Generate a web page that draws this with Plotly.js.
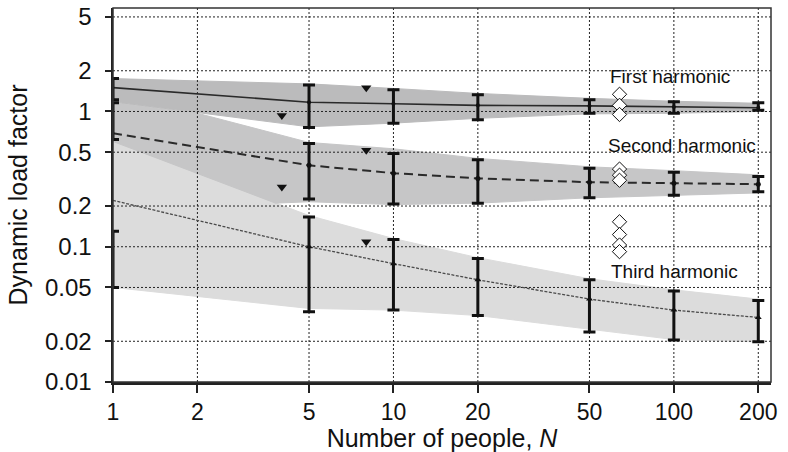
<!DOCTYPE html>
<html>
<head>
<meta charset="utf-8">
<script src="https://cdn.plot.ly/plotly-3.0.1.min.js"></script>
<style>
  html, body { margin: 0; padding: 0; background: #fff; }
  #chart { width: 788px; height: 452px; }
</style>
</head>
<body>
<div id="chart"></div>
<script>
// Axis ticks
const xTicks = [1, 2, 5, 10, 20, 50, 100, 200];
const yTicks = [0.01, 0.02, 0.05, 0.1, 0.2, 0.5, 1, 2, 5];
const yTickText = ['0.01', '0.02', '0.05', '0.1', '0.2', '0.5', '1', '2', '5'];

// Number of people at which mean values and ranges are given
const groupN = [1, 5, 10, 20, 50, 100, 200];

// Mean dynamic load factors
const firstMean = [1.5, 1.17, 1.14, 1.11, 1.10, 1.08, 1.065];
const secondMean = [0.69, 0.40, 0.35, 0.32, 0.30, 0.295, 0.29];
const thirdMean = [0.22, 0.10, 0.075, 0.057, 0.041, 0.034, 0.030];

// Ranges (error bars), low and high ends
const firstLow = [1.22, 0.76, 0.82, 0.87, 0.97, 0.97, 1.02];
const firstHigh = [1.75, 1.57, 1.45, 1.33, 1.22, 1.18, 1.16];
const secondLow = [0.62, 0.225, 0.207, 0.21, 0.23, 0.24, 0.255];
const secondHigh = [1.16, 0.58, 0.49, 0.44, 0.38, 0.355, 0.33];
const thirdLow = [0.05, 0.033, 0.034, 0.031, 0.0234, 0.0204, 0.0198];
const thirdHigh = [0.13, 0.166, 0.113, 0.082, 0.057, 0.047, 0.040];

// Shaded envelopes
const firstBandUpperN = [1, 5, 10, 20, 50, 100, 200];
const firstBandUpper = [1.75, 1.6, 1.48, 1.36, 1.25, 1.19, 1.15];
const firstBandLowerN = [1, 5, 10, 20, 50, 100, 200];
const firstBandLower = [1.18, 0.77, 0.82, 0.89, 0.96, 0.97, 1.0];

const secondBandUpperN = [1, 2, 5, 10, 20, 50, 100, 200];
const secondBandUpper = [1.17, 0.97, 0.59, 0.53, 0.45, 0.39, 0.365, 0.34];
const secondBandLowerN = [1, 3.8, 5, 10, 20, 50, 100, 200];
const secondBandLower = [0.6, 0.21, 0.215, 0.205, 0.21, 0.23, 0.24, 0.25];

const thirdBandUpperN = [1, 3.8, 5, 10, 20, 50, 100, 200];
const thirdBandUpper = [0.6, 0.21, 0.17, 0.115, 0.083, 0.058, 0.048, 0.041];
const thirdBandLowerN = [1, 5, 10, 20, 50, 100, 200];
const thirdBandLower = [0.05, 0.035, 0.034, 0.031, 0.0245, 0.0206, 0.0198];

// Other measurements (filled down-triangles)
const firstTriN = [4, 8];
const firstTri = [0.935, 1.5];
const secondTriN = [4, 8];
const secondTri = [0.276, 0.517];
const thirdTriN = [8];
const thirdTri = [0.109];

// Other measurements (open diamonds)
const diamondN = 64;
const firstDiamonds = [1.34, 1.11, 0.95];
const secondDiamonds = [0.375, 0.338, 0.31];
const thirdDiamonds = [0.153, 0.123, 0.103, 0.092];

const FONT = 'Liberation Sans, Arial, Helvetica, sans-serif';
const INK = '#111111';
const X_RANGE = [0, Math.log10(222)];
const Y_RANGE = [-2, 0.765];

function band(upN, up, loN, lo, color) {
  return {
    x: upN.concat(loN.slice().reverse()),
    y: up.concat(lo.slice().reverse()),
    type: 'scatter', mode: 'lines', fill: 'toself',
    fillcolor: color, line: { width: 1, color: color }, hoverinfo: 'skip', showlegend: false
  };
}

// Dotted grid drawn as a trace so that it stays visible over the shaded envelopes
function gridTrace() {
  const xs = [], ys = [];
  const yLo = Math.pow(10, Y_RANGE[0]), yHi = Math.pow(10, Y_RANGE[1]);
  const xLo = Math.pow(10, X_RANGE[0]), xHi = Math.pow(10, X_RANGE[1]);
  xTicks.slice(1).forEach(v => { xs.push(v, v, null); ys.push(yLo, yHi, null); });
  yTicks.slice(1).forEach(v => { xs.push(xLo, xHi, null); ys.push(v, v, null); });
  return {
    x: xs, y: ys, type: 'scatter', mode: 'lines', connectgaps: false,
    line: { color: '#222', width: 1, dash: '2px,2px' },
    hoverinfo: 'skip', showlegend: false
  };
}

function rangeBars(lo, hi) {
  return {
    x: groupN, y: hi, type: 'scatter', mode: 'markers',
    marker: { size: 1, color: 'rgba(0,0,0,0)' },
    error_y: {
      type: 'data', symmetric: false,
      array: hi.map(() => 0),
      arrayminus: hi.map((h, i) => h - lo[i]),
      color: INK, thickness: 3, width: 6
    },
    showlegend: false, hoverinfo: 'skip'
  };
}

function meanLine(mean, dash, width, color) {
  return {
    x: groupN, y: mean, type: 'scatter', mode: 'lines',
    line: { color: color, width: width, dash: dash },
    showlegend: false
  };
}

function meanMarks(mean, symbol, size) {
  return {
    x: groupN.slice(1), y: mean.slice(1), type: 'scatter', mode: 'markers',
    marker: { symbol: symbol, size: size, color: INK },
    showlegend: false
  };
}

function triangles(n, v) {
  return {
    x: n, y: v, type: 'scatter', mode: 'markers',
    marker: { symbol: 'triangle-down', size: 9, color: INK },
    showlegend: false
  };
}

function diamonds(v) {
  return {
    x: v.map(() => diamondN), y: v, type: 'scatter', mode: 'markers',
    marker: { symbol: 'diamond', size: 11, color: '#ffffff', line: { color: INK, width: 1 } },
    showlegend: false
  };
}

const traces = [
  band(thirdBandUpperN, thirdBandUpper, thirdBandLowerN, thirdBandLower, '#dcdcdc'),
  band(secondBandUpperN, secondBandUpper, secondBandLowerN, secondBandLower, '#c6c6c7'),
  band(firstBandUpperN, firstBandUpper, firstBandLowerN, firstBandLower, '#bbbbbc'),
  gridTrace(),
  meanLine(firstMean, 'solid', 1.6, '#2a2a2a'),
  meanLine(secondMean, '9px,5px', 2, '#2a2a2a'),
  meanLine(thirdMean, '3px,1.5px', 1.3, '#4a4a4a'),
  rangeBars(firstLow, firstHigh),
  rangeBars(secondLow, secondHigh),
  rangeBars(thirdLow, thirdHigh),
  meanMarks(firstMean, 'circle', 4),
  meanMarks(secondMean, 'circle', 5),
  meanMarks(thirdMean, 'triangle-up', 6),
  triangles(firstTriN, firstTri),
  triangles(secondTriN, secondTri),
  triangles(thirdTriN, thirdTri),
  diamonds(firstDiamonds),
  diamonds(secondDiamonds),
  diamonds(thirdDiamonds)
];

const labelFont = { family: FONT, size: 19, color: INK };

const layout = {
  width: 788, height: 452,
  margin: { l: 113, r: 17, t: 8, b: 70 },
  paper_bgcolor: '#ffffff', plot_bgcolor: '#ffffff',
  font: { family: FONT, color: INK },
  showlegend: false,
  xaxis: {
    type: 'log', range: X_RANGE,
    tickvals: xTicks, ticktext: xTicks.map(String),
    tickfont: { family: FONT, size: 23, color: INK },
    ticks: 'outside', ticklen: 8, tickwidth: 2, tickcolor: '#222',
    ticklabelstandoff: 0,
    showline: true, linewidth: 2.5, linecolor: '#222',
    showgrid: false, zeroline: false,
    title: { text: 'Number of people, <i>N</i>', font: { family: FONT, size: 25, color: INK }, standoff: 2 }
  },
  yaxis: {
    type: 'log', range: Y_RANGE,
    tickvals: yTicks, ticktext: yTickText,
    tickfont: { family: FONT, size: 24, color: INK },
    ticks: 'outside', ticklen: 6, tickwidth: 2, tickcolor: '#222',
    ticklabelstandoff: 8,
    showline: true, linewidth: 2.5, linecolor: '#222',
    showgrid: false, zeroline: false,
    title: { text: 'Dynamic load factor', font: { family: FONT, size: 25, color: INK }, standoff: 10 }
  },
  shapes: [{
    type: 'rect', xref: 'paper', yref: 'paper', x0: 0, x1: 1, y0: 0, y1: 1,
    line: { color: '#333', width: 1.5 }, layer: 'above'
  }],
  annotations: [
    { x: Math.log10(58), y: Math.log10(1.8), xref: 'x', yref: 'y', text: 'First harmonic',
      showarrow: false, xanchor: 'left', yanchor: 'middle', font: labelFont },
    { x: Math.log10(57.5), y: Math.log10(0.56), xref: 'x', yref: 'y', text: 'Second harmonic',
      showarrow: false, xanchor: 'left', yanchor: 'middle', font: labelFont },
    { x: Math.log10(58.5), y: Math.log10(0.066), xref: 'x', yref: 'y', text: 'Third harmonic',
      showarrow: false, xanchor: 'left', yanchor: 'middle', font: labelFont }
  ]
};

Plotly.newPlot('chart', traces, layout, { staticPlot: true, displayModeBar: false });
</script>
</body>
</html>
